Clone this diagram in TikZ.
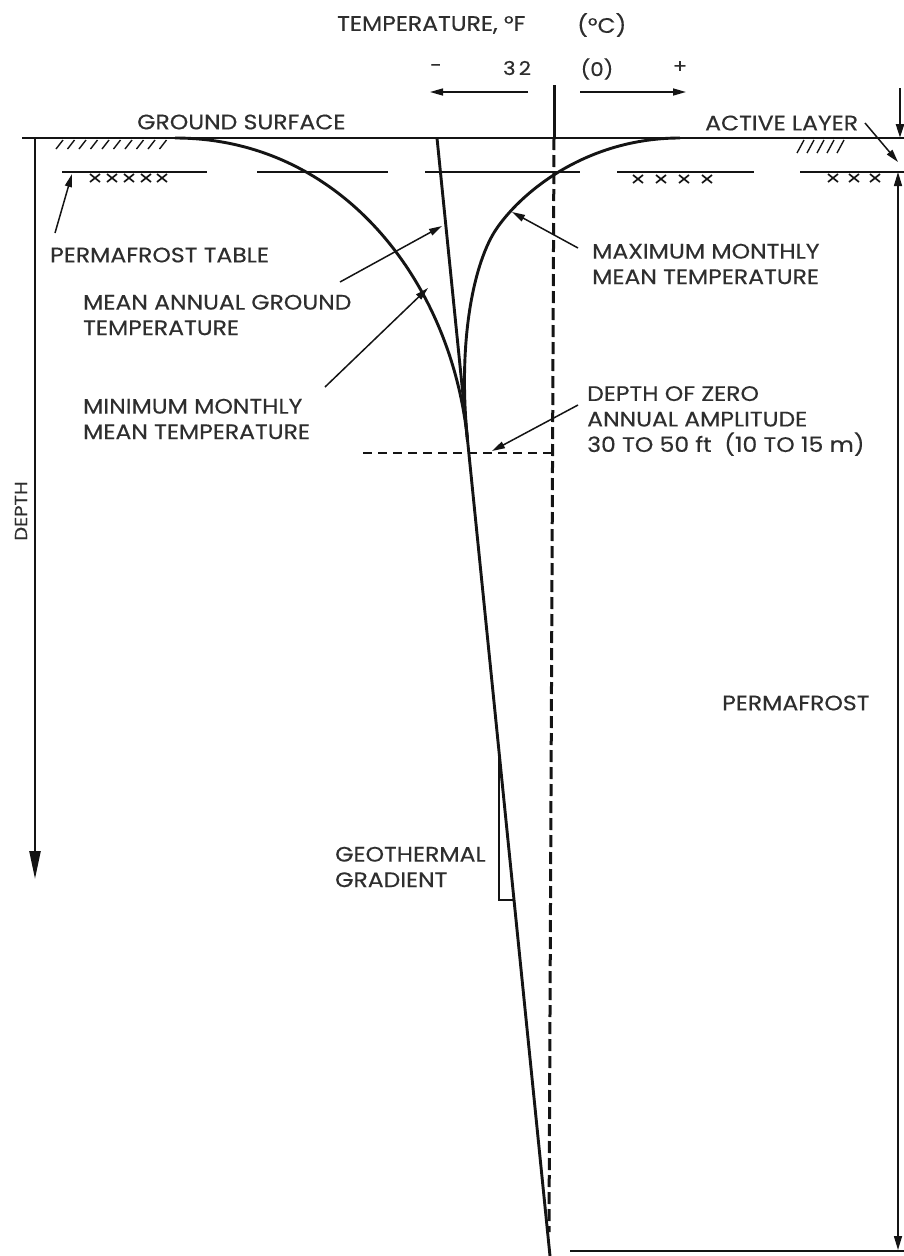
\documentclass[tikz,border=0pt]{standalone}
\usepackage{fontspec}
\setmainfont{Poppins}[FakeStretch=1.12,FakeBold=0.3]
\usetikzlibrary{arrows.meta}
\definecolor{txt}{gray}{0.18}
\definecolor{ink}{gray}{0.08}
\begin{document}
\begin{tikzpicture}[x=1pt,y=-1pt,
  lbl/.style={inner sep=0pt, anchor=west, align=left, text=txt, font=\fontsize{21}{25.5}\selectfont},
  sml/.style={inner sep=0pt, anchor=center, text=txt, font=\fontsize{19}{22}\selectfont},
  heavy/.style={draw=ink, line width=2.9pt},
  medium/.style={draw=ink, line width=2.3pt},
  leader/.style={draw=ink, line width=1.5pt, -{Triangle[length=13pt,width=7pt]}},
  hatch/.style={draw=ink, line width=1.4pt},
  zeroline/.style={draw=ink, line width=3pt, dash pattern=on 12pt off 5pt},
  xmark/.pic={\draw[ink, line width=1.7pt] (-5,-4) -- (5,4) (-5,4) -- (5,-4);}
]
\useasboundingbox[fill=white] (0,0) rectangle (904,1256);

% ---------- temperature axis ----------
\node[lbl] (ttl) at (337,25) {TEMPERATURE, °F};
\node[lbl] (cel) at (577,25) {(°C)};
\node[sml] (minus) at (436,68) {-};
\node[sml] (t32) at (517,68) {3\,2};
\node[sml] (t0) at (597,69) {(0)};
\node[sml] (plus) at (680,67) {+};
\coordinate (la1) at (528,92); \coordinate (la2) at (430,92);
\coordinate (ra1) at (580,92); \coordinate (ra2) at (686,92);
\draw[leader] (la1) -- (la2);
\draw[leader] (ra1) -- (ra2);

% ---------- ground surface ----------
\coordinate (g0) at (22,138); \coordinate (g1) at (904,138);
\draw[heavy] (g0) -- (g1);
\node[lbl] (gs) at (137,122) {GROUND SURFACE};
\foreach \i in {0,...,9} \draw[hatch] ({56+\i*11.5},149) -- ({63+\i*11.5},140);
\foreach \i in {0,...,4} \draw[hatch] ({797+\i*10},153) -- ({804+\i*10},140);

% ---------- depth axis ----------
\coordinate (d0) at (35,138); \coordinate (d1) at (35,879);
\draw[draw=ink, line width=2.4pt, -{Triangle[length=28pt,width=11pt]}] (d0) -- (d1);
\node[sml, rotate=90, font=\fontsize{17.5}{20}\selectfont] (depth) at (21,511) {DEPTH};

% ---------- permafrost table ----------
\foreach \a/\b in {62/207, 257/388, 425/580, 617/754, 800/904}
  \draw[medium] (\a,172) -- (\b,172);
\foreach \cx in {95,112,129,146,162} \pic at (\cx,178) {xmark};
\foreach \cx in {638,661,684,707} \pic at (\cx,179) {xmark};
\foreach \cx in {833,854,875} \pic at (\cx,178) {xmark};
\node[lbl] (pt) at (50,255) {PERMAFROST TABLE};
\coordinate (pta) at (55,233); \coordinate (ptb) at (72,174);
\draw[leader] (pta) -- (ptb);

% ---------- 32 F line ----------
\coordinate (z0) at (554,85); \coordinate (zg) at (554,138); \coordinate (z1) at (549,1232);
\draw[draw=ink, line width=3pt] (z0) -- (zg);
\draw[zeroline] (zg) -- (z1);

% ---------- mean annual ground temperature ----------
\coordinate (m0) at (437,138); \coordinate (m1) at (550,1256);
\draw[heavy] (m0) -- (m1);

% ---------- envelopes ----------
\coordinate (cv) at (467.5,440);
\draw[heavy] (175,138) .. controls (340,138) and (451.3,280) .. (cv);
\draw[heavy] (680,138) .. controls (590,138) and (524.6,188.4) .. (497,228)
  .. controls (474,261) and (457.4,340) .. (cv);

% ---------- depth of zero annual amplitude ----------
\coordinate (za0) at (363,453); \coordinate (za1) at (552,453);
\draw[draw=ink, line width=2.5pt, dash pattern=on 9pt off 6pt] (za0) -- (za1);

% ---------- labels with leaders ----------
\node[lbl] (magt) at (83,315) {MEAN ANNUAL GROUND\\TEMPERATURE};
\coordinate (magta) at (340,282); \coordinate (magtb) at (442,226);
\draw[leader] (magta) -- (magtb);

\node[lbl] (mmin) at (83,419) {MINIMUM MONTHLY\\MEAN TEMPERATURE};
\coordinate (mina) at (325,387); \coordinate (minb) at (428,288);
\draw[leader] (mina) -- (minb);

\node[lbl] (mmax) at (592,264) {MAXIMUM MONTHLY\\MEAN TEMPERATURE};
\coordinate (maxa) at (578,248); \coordinate (maxb) at (512,212);
\draw[leader] (maxa) -- (maxb);

\node[lbl] (dzaa) at (587,421) {DEPTH OF ZERO\\ANNUAL AMPLITUDE\\30 TO 50 ft \ (10 TO 15 m)};
\coordinate (dza) at (578,405); \coordinate (dzb) at (492,451);
\draw[leader] (dza) -- (dzb);

% ---------- active layer / permafrost ----------
\node[lbl] (al) at (705,123) {ACTIVE LAYER};
\coordinate (ala) at (865,123); \coordinate (alb) at (898,162);
\draw[leader] (ala) -- (alb);
\coordinate (r0) at (900,88); \coordinate (r1) at (900,138);
\draw[draw=ink, line width=2.5pt, -{Triangle[length=14pt,width=8pt]}] (r0) -- (r1);
\coordinate (p0) at (898,172); \coordinate (p1) at (898,1250);
\draw[draw=ink, line width=1.5pt, {Triangle[length=14pt,width=8pt]}-{Triangle[length=14pt,width=8pt]}] (p0) -- (p1);
\coordinate (b0) at (570,1251); \coordinate (b1) at (904,1251);
\draw[draw=ink, line width=2pt] (b0) -- (b1);
\node[lbl] (pf) at (722,703) {PERMAFROST};

% ---------- geothermal gradient ----------
\coordinate (gg0) at (499,752); \coordinate (gg1) at (499,900); \coordinate (gg2) at (514,900);
\draw[draw=ink, line width=1.3pt] (gg0) -- (gg1) -- (gg2);
\node[lbl] (geo) at (335,867) {GEOTHERMAL\\GRADIENT};
\end{tikzpicture}
\end{document}
